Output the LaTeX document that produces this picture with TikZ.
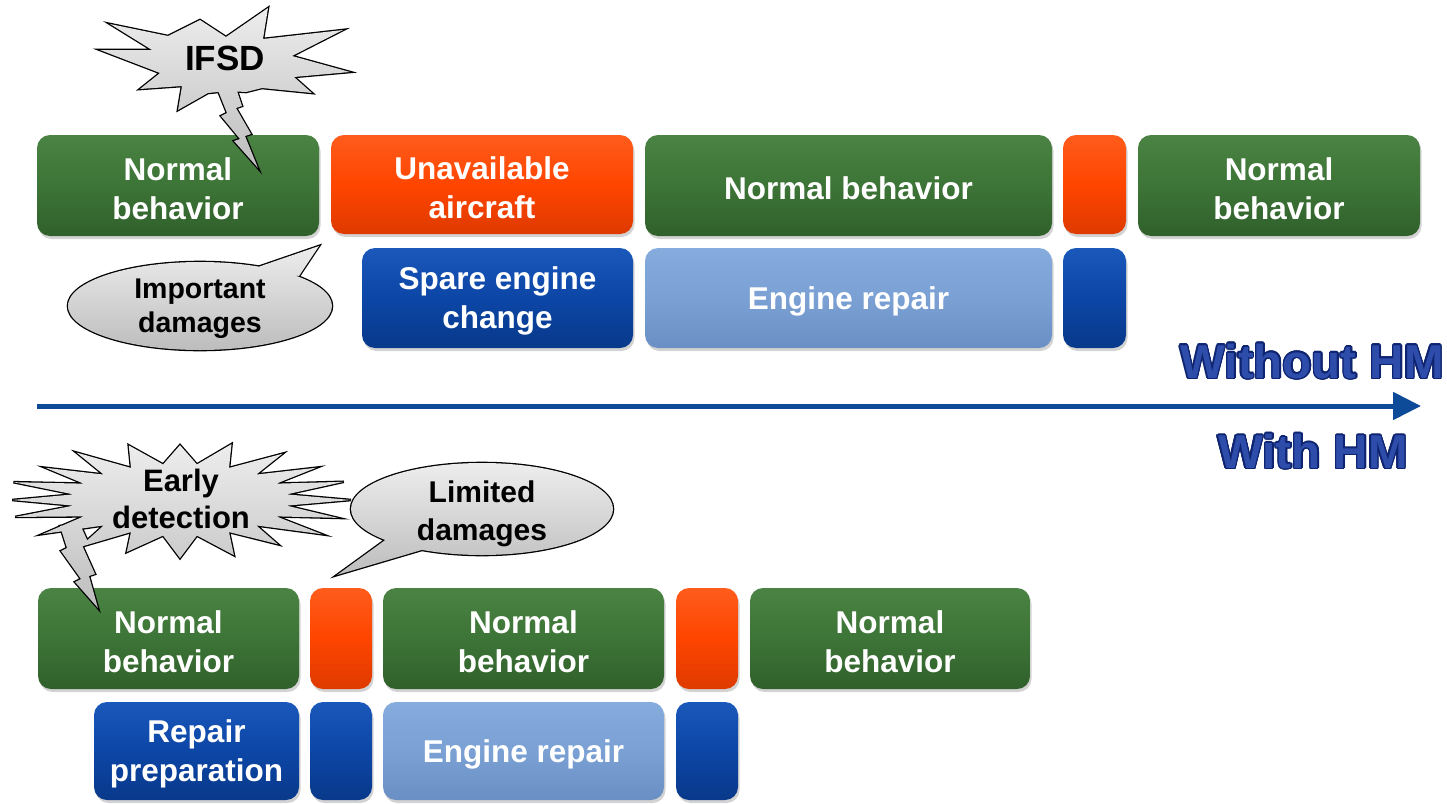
\documentclass[tikz,border=0pt]{standalone}
\usepackage{fontspec}
\setmainfont{Liberation Sans}
\usepackage{contour}
\contourlength{1.4pt}
\usetikzlibrary{shadows,arrows.meta}
\definecolor{gTop}{HTML}{4A8343}\definecolor{gMid}{HTML}{3D7437}\definecolor{gBot}{HTML}{30602B}
\definecolor{oTop}{HTML}{FF5C1C}\definecolor{oMid}{HTML}{FF4500}\definecolor{oBot}{HTML}{DE3A00}
\definecolor{bTop}{HTML}{1A58BA}\definecolor{bMid}{HTML}{0C46A6}\definecolor{bBot}{HTML}{08398A}
\definecolor{lTop}{HTML}{86ACDE}\definecolor{lMid}{HTML}{7AA0D4}\definecolor{lBot}{HTML}{6A8FC4}
\definecolor{arrowBlue}{HTML}{0D4A97}
\definecolor{hmFill}{HTML}{2E4DAA}\definecolor{hmLine}{HTML}{0E2470}
\definecolor{cTop}{HTML}{EDEDED}\definecolor{cBot}{HTML}{BDBDBD}
\tikzset{
  bx/.style={rounded corners=13, inner sep=0, draw=none,
    drop shadow={opacity=0.35, shadow xshift=1.5pt, shadow yshift=-3pt}},
  gbox/.style={bx, top color=gTop, bottom color=gBot, middle color=gMid},
  obox/.style={bx, top color=oTop, bottom color=oBot, middle color=oMid},
  bbox/.style={bx, top color=bTop, bottom color=bBot, middle color=bMid},
  lbox/.style={bx, top color=lTop, bottom color=lBot, middle color=lMid},
  boxtext/.style={text=white, font=\bfseries\fontsize{31.5}{39}\selectfont,
    align=center, inner sep=0, yshift=-3pt},
  calloutline/.style={draw=black, line width=2.6, line join=miter},
  calloutfill/.style={top color=cTop, bottom color=cBot, draw=none},
  calltext/.style={align=center, text=black, inner sep=0},
  hmtext/.style={inner sep=0, font=\bfseries\fontsize{47.5}{50}\selectfont},
}
\begin{document}
\begin{tikzpicture}[x=1pt,y=-1pt]
\useasboundingbox (0,0) rectangle (1447,803);
% ---------- top row (without HM) ----------
\node[gbox, minimum width=282, minimum height=101] (t1) at (178,185.5) {};
\node[boxtext] (t1t) at (t1) {Normal\\behavior};
\node[obox, minimum width=302, minimum height=99] (t2) at (482,184.5) {};
\node[boxtext] (t2t) at (t2) {Unavailable\\aircraft};
\node[gbox, minimum width=407, minimum height=101] (t3) at (848.5,185.5) {};
\node[boxtext] (t3t) at (t3) {Normal behavior};
\node[obox, minimum width=63, minimum height=99] (t4) at (1094.5,184.5) {};
\node[gbox, minimum width=282, minimum height=101] (t5) at (1279,185.5) {};
\node[boxtext] (t5t) at (t5) {Normal\\behavior};
\node[bbox, minimum width=271, minimum height=100] (s1) at (497.5,298) {};
\node[boxtext] (s1t) at (s1) {Spare engine\\change};
\node[lbox, minimum width=407, minimum height=100] (s2) at (848.5,298) {};
\node[boxtext] (s2t) at (s2) {Engine repair};
\node[bbox, minimum width=63, minimum height=100] (s3) at (1094.5,298) {};
% ---------- time arrow ----------
\coordinate (as) at (37,406);
\coordinate (ae) at (1421,406);
\draw[arrowBlue, line width=5, -{Triangle[length=28,width=27]}] (as) -- (ae);
\node[hmtext] (wo) at (1312,362) {\contour{hmLine}{\textcolor{hmFill}{Without HM}}};
\node[hmtext] (wi) at (1313,452) {\contour{hmLine}{\textcolor{hmFill}{With HM}}};
% ---------- bottom row (with HM) ----------
\node[gbox, minimum width=261, minimum height=101] (b1) at (168.5,638.5) {};
\node[boxtext] (b1t) at (b1) {Normal\\behavior};
\node[obox, minimum width=62, minimum height=101] (b2) at (341,638.5) {};
\node[gbox, minimum width=281, minimum height=101] (b3) at (523.5,638.5) {};
\node[boxtext] (b3t) at (b3) {Normal\\behavior};
\node[obox, minimum width=62, minimum height=101] (b4) at (707,638.5) {};
\node[gbox, minimum width=280, minimum height=101] (b5) at (890,638.5) {};
\node[boxtext] (b5t) at (b5) {Normal\\behavior};
\node[bbox, minimum width=205, minimum height=98] (r1) at (196.5,751) {};
\node[boxtext] (r1t) at (r1) {Repair\\preparation};
\node[bbox, minimum width=62, minimum height=98] (r2) at (341,751) {};
\node[lbox, minimum width=281, minimum height=98] (r3) at (523.5,751) {};
\node[boxtext] (r3t) at (r3) {Engine repair};
\node[bbox, minimum width=62, minimum height=98] (r4) at (707,751) {};
% ---------- IFSD burst ----------
\def\ifsdpath{(200,20) -- (226,37) -- (268,8) -- (263,39) -- (343,30) -- (292,56) -- (350,72)
  -- (294,77) -- (312,93) -- (262,88) -- (246,92) -- (228,91) -- (208,93) -- (178,110) -- (182,86)
  -- (140,89) -- (160,73) -- (100,50) -- (152,50) -- (110,24) -- (168,36) -- cycle
  (235,85) -- (242,106) -- (236,108) -- (251,134) -- (245,136) -- (258,168) -- (234,141)
  -- (240,139) -- (221,116) -- (227,113) -- (217,88) -- cycle}
\path[calloutline] \ifsdpath;
\shade[calloutfill] \ifsdpath;
\node[calltext, font=\bfseries\fontsize{35}{40}\selectfont] (ifsd) at (225,58) {IFSD};
% ---------- Important damages ----------
\def\imppath{(200,306) ellipse [x radius=132, y radius=44]
  (255,268) -- (319,246) -- (299,276) -- cycle}
\path[calloutline] \imppath;
\shade[calloutfill] \imppath;
\node[calltext, font=\bfseries\fontsize{28.5}{34}\selectfont] (imp) at (200,309) {Important\\damages};
% ---------- Early detection burst ----------
\def\edpath{(351,500) \foreach \i in {1,...,39} {
    -- ({180+ifthenelse(mod(\i,2)==0,171*(1+0.03*sin(\i*83)),108)*cos(\i*9)},
        {500-ifthenelse(mod(\i,2)==0,57*(1+0.04*sin(\i*61)),36)*sin(\i*9)})} -- cycle
  (60,526) -- (67,548) -- (61,551) -- (81,579) -- (75,582) -- (98,608) -- (89,576)
  -- (95,574) -- (82,545) -- (88,542) -- (79,522) -- cycle}
\path[calloutline] \edpath;
\shade[calloutfill] \edpath;
\node[calltext, font=\bfseries\fontsize{31}{37}\selectfont] (ed) at (181,499) {Early\\detection};
% ---------- Limited damages ----------
\def\limpath{(482,509) ellipse [x radius=131, y radius=46]
  (425,549) -- (337,575) -- (388,538) -- cycle}
\path[calloutline] \limpath;
\shade[calloutfill] \limpath;
\node[calltext, font=\bfseries\fontsize{30}{38}\selectfont] (lim) at (482,514) {Limited\\damages};
\end{tikzpicture}
\end{document}
